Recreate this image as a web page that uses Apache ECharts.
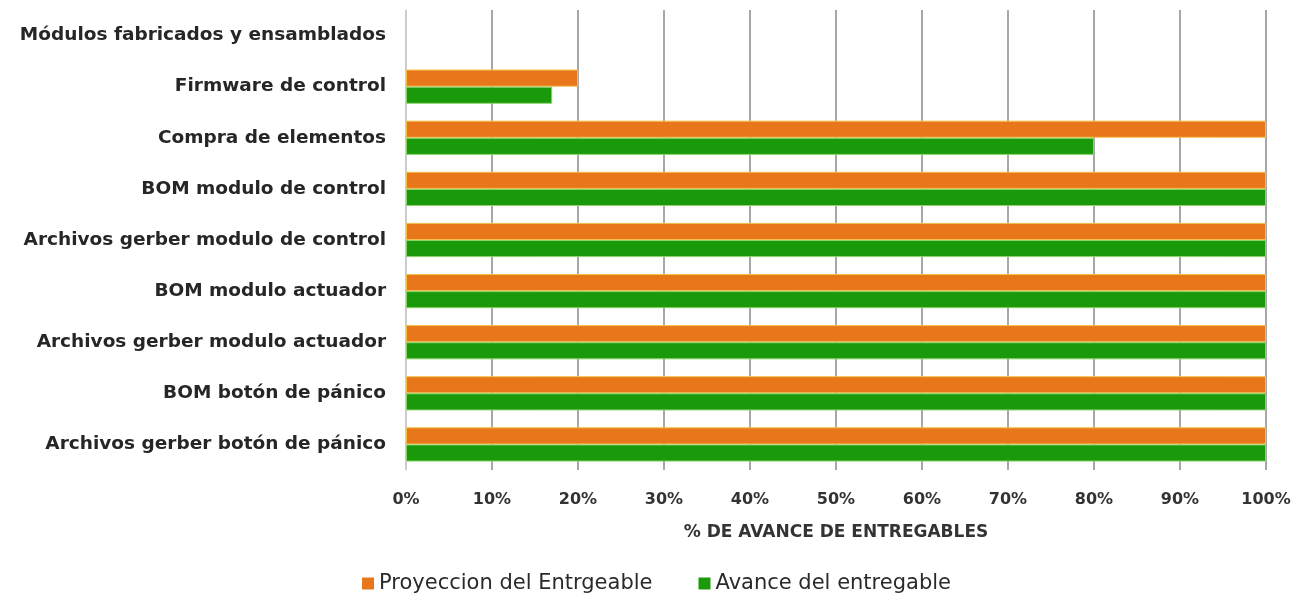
<!DOCTYPE html>
<html><head><meta charset="utf-8">
<script src="https://cdn.jsdelivr.net/npm/echarts@6/dist/echarts.min.js"></script>
<style>html,body{margin:0;padding:0;background:#fff}#c{width:1313px;height:596px}</style>
</head><body><div id="c"></div>
<script>
const categories = ['Módulos fabricados y ensamblados','Firmware de control','Compra de elementos','BOM modulo de control','Archivos gerber modulo de control','BOM modulo actuador','Archivos gerber modulo actuador','BOM botón de pánico','Archivos gerber botón de pánico'];
const proyeccion = [0, 20, 100, 100, 100, 100, 100, 100, 100];
const avance = [0, 17, 80, 100, 100, 100, 100, 100, 100];
const seriesNames = ['Proyeccion del Entrgeable','Avance del entregable'];
const axisTitle = '% DE AVANCE DE ENTREGABLES';

// zero-length bars are not drawn (no visible sliver)
const toBar = arr => arr.map(v => v === 0 ? '-' : v);

const chart = echarts.init(document.getElementById('c'));
const font = 'DejaVu Sans';
chart.setOption({
  animation: false,
  grid: {left: 406, right: 47, top: 10, bottom: 126},
  legend: {
    top: 568, left: 'center', itemWidth: 12, itemHeight: 12, itemGap: 46,
    icon: 'rect',
    itemStyle: {borderWidth: 0},
    textStyle: {fontFamily: font, fontSize: 21, color: '#2a2a2a', padding: [0,0,0,0]},
    data: seriesNames
  },
  xAxis: {
    type: 'value', min: 0, max: 100, interval: 10,
    name: axisTitle, nameLocation: 'middle', nameGap: 54,
    nameTextStyle: {fontFamily: font, fontSize: 17, fontWeight: 'bold', color: '#333'},
    axisLabel: {formatter: '{value}%', fontFamily: font, fontSize: 16, fontWeight: 'bold', color: '#333', margin: 22},
    axisLine: {show: false},
    axisTick: {show: false},
    splitLine: {show: true, lineStyle: {color: '#8a8a8a', width: 1.5}}
  },
  yAxis: {
    type: 'category', data: categories, inverse: true,
    axisLine: {show: true, lineStyle: {color: '#d8d8d8', width: 1.5}},
    axisTick: {show: false},
    axisLabel: {fontFamily: font, fontSize: 18.5, fontWeight: 'bold', color: '#262626', margin: 20}
  },
  series: [
    {name: seriesNames[0], type: 'bar', data: toBar(proyeccion), barGap: '0%', barCategoryGap: '33%',
     itemStyle: {color: '#E8761A', borderColor: '#F2C14A', borderWidth: 1}},
    {name: seriesNames[1], type: 'bar', data: toBar(avance),
     itemStyle: {color: '#1A9A0A', borderColor: '#8CD46A', borderWidth: 1}}
  ]
});
</script></body></html>
